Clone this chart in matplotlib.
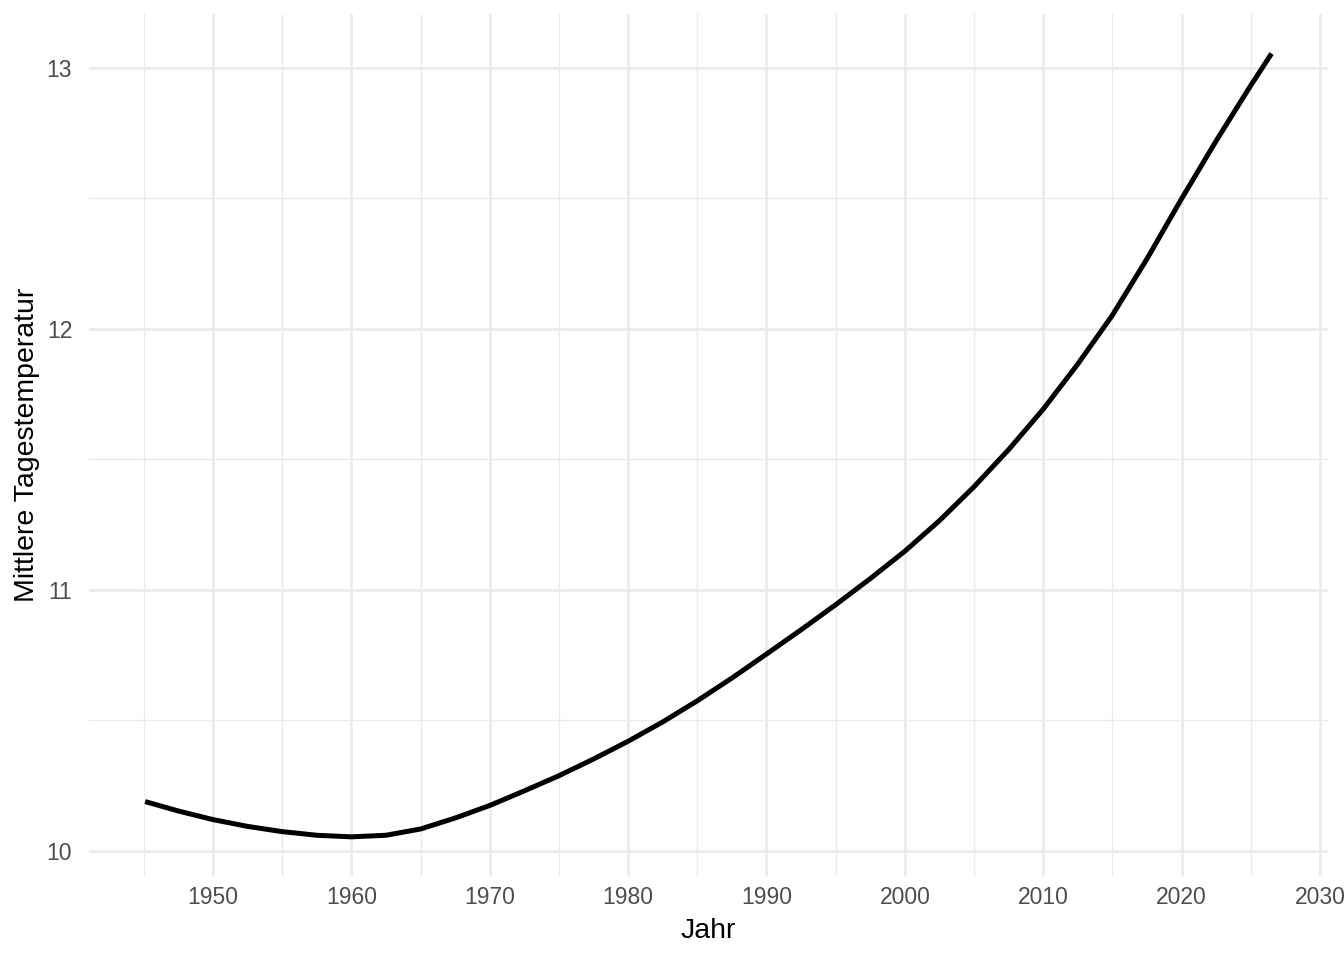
import matplotlib
matplotlib.use("Agg")
import matplotlib.pyplot as plt
from matplotlib.ticker import MultipleLocator

# ---------- Data ----------
jahre = [1945.1, 1947.5, 1950, 1952.5, 1955, 1957.5, 1960, 1962.5, 1965,
         1967.5, 1970, 1972.5, 1975, 1977.5, 1980, 1982.5, 1985, 1987.5,
         1990, 1992.5, 1995, 1997.5, 2000, 2002.5, 2005, 2007.5, 2010,
         2012.5, 2015, 2017.5, 2020, 2022.5, 2025, 2026.5]
temperatur = [10.189, 10.153, 10.120, 10.094, 10.074, 10.060, 10.054, 10.060,
              10.084, 10.126, 10.174, 10.230, 10.288, 10.352, 10.420, 10.494,
              10.575, 10.662, 10.754, 10.847, 10.943, 11.043, 11.148, 11.265,
              11.395, 11.537, 11.692, 11.865, 12.052, 12.268, 12.498, 12.720,
              12.932, 13.054]

x_ticks = [1950, 1960, 1970, 1980, 1990, 2000, 2010, 2020, 2030]
y_ticks = [10, 11, 12, 13]

plt.rcParams['font.family'] = ['Liberation Sans', 'DejaVu Sans']

fig = plt.figure(figsize=(13.44, 9.6), dpi=100)
ax = fig.add_axes([0.0661, 0.0875, 0.988 - 0.0661, 0.985 - 0.0875])

# ---------- Grid (theme_minimal look) ----------
ax.set_xticks(x_ticks)
ax.set_yticks(y_ticks)
ax.xaxis.set_minor_locator(MultipleLocator(5))
ax.yaxis.set_minor_locator(MultipleLocator(0.5))
ax.grid(which='major', color='#EBEBEB', linewidth=1.9)
ax.grid(which='minor', color='#EBEBEB', linewidth=1.0)
ax.set_axisbelow(True)
for s in ax.spines.values():
    s.set_visible(False)
ax.tick_params(which='both', length=0)
ax.tick_params(axis='x', labelsize=16.5, labelcolor='#4D4D4D', pad=7.5)
ax.tick_params(axis='y', labelsize=16.5, labelcolor='#4D4D4D', pad=12)

# ---------- Line ----------
ax.plot(jahre, temperatur, color='black', linewidth=3.6,
        solid_capstyle='butt', solid_joinstyle='round')

x_span = max(jahre) - min(jahre)
y_span = max(temperatur) - min(temperatur)
ax.set_xlim(min(jahre) - 0.05 * x_span, max(jahre) + 0.05 * x_span)
ax.set_ylim(min(temperatur) - 0.05 * y_span, max(temperatur) + 0.05 * y_span)

ax.set_xlabel("Jahr", fontsize=20.5, labelpad=6)
ax.set_ylabel("Mittlere Tagestemperatur", fontsize=20.5, labelpad=5)

fig.savefig("out.png", dpi=100)
